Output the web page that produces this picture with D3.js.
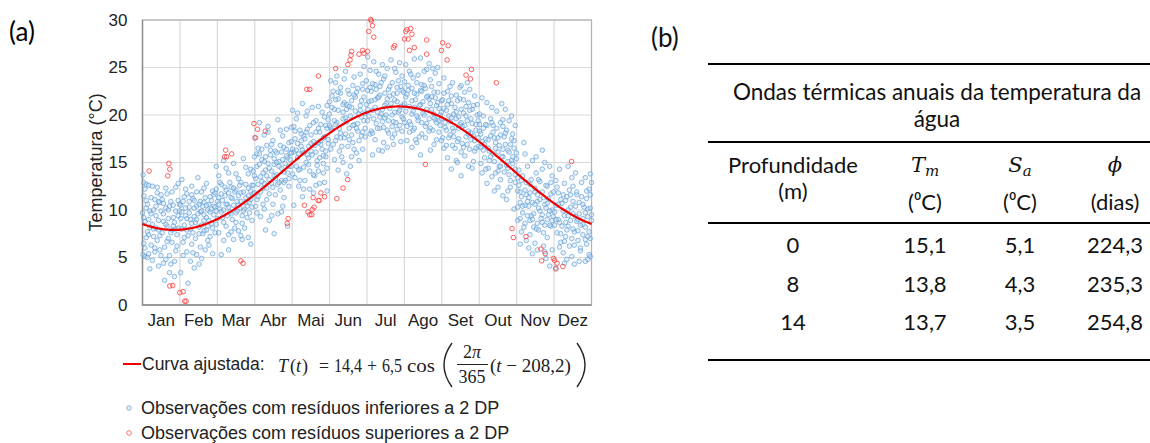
<!DOCTYPE html>
<html>
<head>
<meta charset="utf-8">
<script src="https://cdn.jsdelivr.net/npm/d3@7"></script>
<style>
  body { margin: 0; background: #fff; }
  svg { display: block; }
</style>
</head>
<body>
<svg id="chart" width="1150" height="443"></svg>
<script>
// ---- data ----
const months = ["Jan", "Feb", "Mar", "Abr", "Mai", "Jun", "Jul", "Ago", "Set", "Out", "Nov", "Dez"];
const yTicks = [0, 5, 10, 15, 20, 25, 30];

// fitted curve as printed in the legend: T(t) = 14,4 + 6,5 cos(2pi/365 (t - 208,2))
const fitMean = 14.4;
const fitAmp = 6.5;
const fitPhase = 208.2;
const fitPeriod = 365;

// observations (day of year, temperature), residuals < 2 SD
const blueObs = [
  [0.5,13.7],[1,12.9],[3,12.7],[5,12.6],[2,12.2],[8,12.5],[12,11.8],[15,11.6],[19,12.3],[24,11.9],[27,12.4],[10,11.1],[4,10.6],[14,10.8],[22,10.4],[29,11.0],[0,9.7],[6,9.9],[11,9.4],[17,9.6],[25,9.2],[30,9.9],[2,8.8],[8,8.5],[13,8.9],[20,8.3],[26,8.7],[4,7.7],[9,7.2],[16,7.6],[21,7.0],[28,7.4],[1,6.5],[7,6.3],[12,6.8],[18,6.1],[24,6.6],[0.5,5.3],[2,5.1],[4,5.0],[5,5.4],[10,5.6],[15,5.2],[19,4.8],[23,4.3],[27,5.7],[6,3.8],[13,4.1],[18,2.6],[22,3.4],[26,3.0],
  [1,11.5],[3,10.2],[5,9.0],[7,11.3],[9,10.0],[11,8.1],[13,10.9],[14,7.3],[16,11.1],[17,8.8],[19,10.2],[20,6.7],[21,9.1],[23,10.9],[24,7.9],[25,8.3],[27,9.9],[28,6.2],[29,8.1],[30,10.6],[3,7.1],[6,8.2],[10,6.0],[14,5.8],[17,4.4],[22,5.2],[26,4.6],[8,4.7],[2,6.0],[12,12.4],[20,11.7],[29,12.8],
  [1,9.2],[3,11.0],[5,7.4],[7,9.6],[9,8.0],[11,10.4],[13,7.9],[15,9.9],[17,10.7],[19,8.5],[21,10.0],[23,7.6],[25,10.5],[27,8.0],[29,9.4],
  [32,13.2],[45,13.4],[40,12.5],[52,12.8],[36,11.7],[48,11.9],[57,12.0],[33,10.9],[41,11.2],[50,10.8],[55,11.4],[35,10.2],[44,10.4],[38,9.7],[47,9.8],[53,10.0],[58,9.5],[31,9.1],[42,9.3],[50,8.9],[56,8.6],[34,8.4],[39,8.0],[46,8.2],[52,7.9],[37,7.3],[43,7.0],[49,7.5],[55,7.2],[33,6.6],[40,6.4],[47,6.1],[53,6.8],[36,5.6],[44,5.3],[51,5.8],[39,4.6],[46,4.3],[31,3.4],[37,2.3],[42,3.9],
  [31,10.5],[32,8.0],[34,11.4],[35,9.4],[36,7.9],[38,10.9],[39,9.0],[40,11.6],[41,7.6],[42,10.2],[43,8.7],[44,11.9],[45,9.6],[46,7.5],[47,10.9],[48,8.4],[49,10.4],[50,9.5],[51,11.3],[52,9.2],[53,8.3],[54,10.6],[55,9.8],[56,11.0],[57,8.1],[58,10.4],[59,7.6],[33,5.2],[41,5.5],[48,4.9],[54,6.3],[57,5.4],[35,12.2],[50,12.3],
  [32,9.8],[34,7.1],[36,9.1],[38,10.3],[40,8.6],[42,11.0],[44,9.0],[46,10.6],[48,9.9],[50,7.8],[52,10.5],[54,8.9],[56,10.1],[58,11.6],
  [60,14.6],[66,15.2],[74,14.9],[82,15.4],[88,14.3],[62,13.6],[70,13.9],[78,13.3],[86,13.8],[64,12.7],[72,12.4],[80,12.9],[89,12.6],[59,11.8],[67,11.5],[75,11.9],[84,11.3],[61,10.9],[69,10.6],[77,10.9],[85,10.4],[63,10.1],[71,9.8],[79,10.2],[87,9.7],[65,9.2],[73,9.0],[81,9.4],[60,8.5],[68,8.3],[76,8.7],[83,8.1],[89,8.9],[62,7.6],[70,7.4],[78,7.8],[86,7.1],[66,6.8],[74,6.9],[81,6.9],[64,5.3],[70,5.8],[88,6.4],
  [59,10.3],[60,12.2],[61,9.1],[62,11.3],[63,12.9],[64,9.8],[65,11.0],[66,8.7],[67,12.4],[68,10.6],[69,9.4],[70,11.8],[71,12.9],[72,9.6],[73,11.2],[74,10.5],[75,8.1],[76,12.1],[77,9.9],[78,11.5],[79,12.6],[80,10.9],[81,8.6],[82,11.9],[83,10.1],[84,12.7],[85,9.2],[86,11.5],[87,10.8],[88,12.0],[89,10.3],[90,11.7],[68,14.4],[76,13.8],[84,14.5],[72,7.7],[80,7.3],
  [60,9.9],[62,10.6],[64,11.7],[66,10.0],[68,12.1],[70,10.3],[72,11.3],[74,12.3],[76,9.7],[78,10.5],[80,11.8],[82,9.9],[84,10.8],[86,12.3],[88,11.1],
  [95,19.2],[102,18.8],[110,19.5],[117,18.5],[92,17.6],[99,17.9],[106,17.3],[114,17.8],[119,17.1],[94,16.5],[101,16.8],[108,16.2],[115,16.6],[91,15.6],[97,15.3],[104,15.8],[111,15.1],[118,15.5],[93,14.6],[100,14.2],[107,14.8],[113,14.4],[96,13.5],[103,13.2],[109,13.7],[116,13.1],[90,12.6],[98,12.3],[105,12.8],[112,12.1],[119,12.5],[94,11.4],[101,11.1],[108,11.6],[115,11.3],[92,10.4],[99,10.1],[106,10.6],[113,9.8],[96,9.3],[103,8.9],[110,9.6],[100,7.9],[107,7.5],[118,8.3],
  [90,14.1],[91,11.8],[92,13.3],[93,15.9],[94,12.7],[95,14.8],[96,11.9],[97,16.4],[98,13.9],[99,12.8],[100,15.6],[101,13.6],[102,14.9],[103,11.7],[104,16.3],[105,14.1],[106,12.4],[107,15.4],[108,13.3],[109,16.0],[110,12.7],[111,14.6],[112,16.8],[113,13.1],[114,15.3],[115,12.9],[116,14.9],[117,16.4],[118,13.9],[119,14.6],[120,16.0],[98,10.6],[105,9.4],[114,10.4],[93,9.7],[102,18.2],[112,18.4],
  [91,13.6],[93,11.1],[95,15.9],[97,13.0],[99,15.1],[101,12.3],[103,14.4],[105,16.9],[107,13.6],[109,15.0],[111,12.9],[113,16.1],[115,14.0],[117,15.7],[119,13.3],
  [122,20.5],[130,21.2],[138,20.8],[146,20.3],[150,21.0],[125,19.6],[133,19.9],[141,19.4],[148,19.8],[121,18.7],[128,18.4],[136,18.9],[144,18.2],[150,18.6],[124,17.5],[131,17.8],[139,17.2],[147,17.6],[122,16.4],[129,16.7],[137,16.2],[145,16.9],[126,15.5],[134,15.8],[142,15.2],[149,15.6],[121,14.6],[128,14.3],[135,14.8],[143,14.1],[124,13.4],[132,13.1],[140,13.6],[147,13.9],[127,12.5],[136,12.2],[144,12.8],[130,11.4],[139,11.8],[123,10.5],[150,12.0],
  [120,15.3],[121,17.2],[122,13.8],[123,16.1],[124,18.3],[125,14.6],[126,17.0],[127,15.9],[128,13.1],[129,18.0],[130,16.3],[131,14.5],[132,17.5],[133,15.0],[134,18.5],[135,16.7],[136,14.1],[137,17.9],[138,15.8],[139,13.7],[140,16.8],[141,18.2],[142,14.7],[143,17.1],[144,15.5],[145,19.0],[146,16.4],[147,14.9],[148,17.7],[149,16.2],[150,14.4],[151,17.4],[126,20.2],[134,20.4],[143,20.9],[131,12.2],[141,12.6],[148,12.9],
  [121,16.0],[123,18.8],[125,16.3],[127,14.2],[129,17.3],[131,16.0],[133,18.2],[135,15.5],[137,17.0],[139,19.2],[141,16.1],[143,18.6],[145,17.3],[147,15.7],[149,18.9],
  [153,23.6],[158,24.1],[165,24.6],[172,24.0],[177,24.3],[180,25.1],[155,22.5],[161,22.9],[168,22.2],[175,22.8],[179,23.3],[152,21.4],[159,21.7],[166,21.1],[173,21.9],[178,21.5],[156,20.6],[163,20.3],[170,20.8],[176,20.1],[151,19.5],[158,19.2],[165,19.7],[172,19.0],[180,19.4],[154,18.4],[161,18.1],[168,18.6],[175,18.3],[157,17.3],[164,17.6],[171,17.1],[178,17.8],[153,16.4],[160,16.2],[167,16.7],[174,16.0],[156,15.3],[163,15.0],[170,15.6],[159,14.2],[166,13.8],[176,15.2],
  [151,17.0],[152,20.1],[153,18.7],[154,22.0],[155,16.9],[156,19.4],[157,21.6],[158,17.7],[159,20.5],[160,18.6],[161,22.3],[162,16.7],[163,19.6],[164,21.3],[165,18.0],[166,20.6],[167,22.6],[168,17.4],[169,19.9],[170,21.5],[171,18.9],[172,16.4],[173,20.4],[174,22.4],[175,19.1],[176,17.3],[177,21.0],[178,19.8],[179,18.2],[180,21.9],[181,20.2],[157,23.4],[164,23.8],[171,23.1],[162,15.6],[169,14.6],[179,16.4],
  [152,18.9],[154,20.8],[157,19.0],[159,22.4],[161,17.6],[163,21.1],[166,19.3],[168,20.9],[170,17.9],[172,22.1],[174,18.6],[177,20.5],[179,22.7],
  [183,26.1],[188,25.6],[195,25.3],[202,25.8],[209,25.5],[185,24.7],[192,24.3],[199,24.9],[206,24.5],[211,24.1],[182,23.6],[189,23.2],[196,23.8],[203,23.4],[210,23.0],[186,22.5],[193,22.1],[200,22.7],[207,22.3],[184,21.4],[191,21.8],[198,21.2],[205,21.6],[212,21.0],[187,20.5],[194,20.1],[201,20.7],[208,20.3],[183,19.4],[190,19.1],[197,19.7],[204,19.3],[211,19.8],[186,18.3],[193,18.6],[200,18.1],[207,18.5],[189,17.4],[196,17.1],[203,17.6],[210,17.2],[187,15.8],[192,16.3],[199,16.6],
  [181,18.6],[182,21.1],[183,22.6],[184,19.9],[185,18.0],[186,21.5],[187,23.3],[188,19.6],[189,20.8],[190,22.7],[191,18.6],[192,21.9],[193,19.8],[194,23.4],[195,20.6],[196,18.7],[197,22.3],[198,20.0],[199,21.7],[200,19.4],[201,23.0],[202,21.2],[203,18.8],[204,22.2],[205,20.3],[206,19.2],[207,21.4],[208,23.6],[209,18.9],[210,20.9],[211,22.6],[212,19.6],[190,24.6],[197,24.1],[205,24.9],[195,16.2],[204,16.9],
  [181,17.7],[183,20.6],[185,22.9],[187,18.1],[189,21.6],[191,20.3],[193,23.0],[195,19.3],[197,21.0],[199,18.4],[201,22.0],[203,20.0],[205,18.0],[207,22.9],[209,20.5],[211,18.3],
  [214,25.3],[221,25.9],[226,26.0],[233,25.4],[240,25.0],[217,24.6],[224,24.2],[231,24.8],[238,24.4],[213,23.5],[220,23.9],[227,23.2],[234,23.7],[241,23.3],[216,22.6],[223,22.2],[230,22.8],[237,22.4],[219,21.5],[226,21.1],[233,21.7],[240,21.3],[214,20.4],[221,20.8],[228,20.2],[235,20.6],[242,20.0],[217,19.3],[224,19.7],[231,19.1],[238,19.5],[220,18.4],[227,18.0],[234,18.6],[241,18.2],[215,17.3],[223,17.1],[230,17.6],[237,16.9],[234,16.3],[226,15.8],[219,16.6],
  [212,22.4],[213,19.2],[214,21.9],[215,18.8],[216,23.1],[217,20.9],[218,19.0],[219,22.8],[220,20.4],[221,18.6],[222,21.6],[223,23.4],[224,19.4],[225,21.0],[226,22.6],[227,19.2],[228,21.4],[229,23.1],[230,18.8],[231,20.6],[232,22.0],[233,19.6],[234,21.2],[235,23.0],[236,18.4],[237,20.1],[238,21.8],[239,19.2],[240,22.4],[241,20.7],[242,18.9],[243,21.5],[218,24.3],[229,24.6],[236,24.9],[222,17.4],[239,17.4],
  [213,21.2],[215,22.2],[217,18.2],[219,20.1],[221,22.3],[223,19.9],[225,17.7],[227,22.5],[229,20.0],[231,21.9],[233,18.3],[235,21.9],[237,19.7],[239,21.0],[241,19.4],
  [245,23.9],[252,23.4],[259,23.1],[266,22.7],[248,22.5],[255,22.1],[262,22.4],[270,22.0],[244,21.6],[251,21.2],[258,21.7],[265,21.3],[272,21.1],[247,20.5],[254,20.8],[261,20.2],[268,20.6],[243,19.6],[250,19.3],[257,19.8],[264,19.4],[271,19.0],[246,18.7],[253,18.3],[260,18.8],[267,18.1],[249,17.6],[256,17.2],[263,17.7],[270,17.3],[245,16.5],[252,16.8],[259,16.1],[266,16.4],[273,16.7],[248,15.5],[255,15.2],[262,15.7],[269,15.1],[251,14.3],[259,13.6],[265,14.6],
  [243,20.3],[244,17.6],[245,22.3],[246,19.2],[247,16.8],[248,21.1],[249,19.9],[250,17.9],[251,22.0],[252,18.6],[253,20.1],[254,16.5],[255,19.6],[256,21.5],[257,17.5],[258,19.0],[259,20.6],[260,17.0],[261,21.6],[262,18.9],[263,19.9],[264,16.9],[265,18.3],[266,20.5],[267,17.4],[268,19.1],[269,21.0],[270,16.2],[271,18.4],[272,20.0],[273,17.6],[274,19.0],[250,23.0],[258,22.9],[264,23.4],[256,15.0],[268,14.4],
  [243,17.3],[245,20.7],[247,18.4],[249,21.5],[251,19.7],[253,17.7],[255,20.3],[257,18.6],[259,19.2],[261,16.6],[263,20.9],[265,18.0],[267,19.6],[269,17.8],[271,16.5],[273,19.4],
  [276,21.8],[280,21.3],[288,20.4],[295,20.6],[300,19.9],[274,20.1],[283,19.6],[291,19.2],[298,19.4],[303,18.9],[277,18.6],[285,18.2],[293,18.8],[301,18.0],[279,17.5],[287,17.1],[294,17.7],[302,17.3],[275,16.6],[282,16.2],[290,16.8],[297,16.3],[304,16.0],[278,15.5],[286,15.1],[293,15.6],[300,15.2],[281,14.4],[289,14.1],[296,14.7],[303,14.3],[284,13.5],[291,13.2],[298,13.7],[276,13.9],[286,12.0],[293,11.5],[299,12.4],[302,10.1],[296,11.1],
  [274,18.3],[275,14.9],[276,17.2],[277,19.9],[278,16.9],[279,14.3],[280,18.9],[281,16.5],[282,15.2],[283,17.8],[284,19.2],[285,15.9],[286,17.6],[287,13.9],[288,18.6],[289,16.1],[290,14.6],[291,17.9],[292,15.6],[293,19.5],[294,14.0],[295,16.9],[296,18.4],[297,15.1],[298,16.1],[299,13.1],[300,17.5],[301,14.9],[302,16.5],[303,12.9],[304,15.4],[280,12.8],[289,12.4],[297,12.0],[284,20.8],[292,21.2],
  [275,18.0],[277,16.3],[279,19.0],[281,17.4],[283,15.6],[285,18.9],[287,16.5],[289,17.6],[291,14.6],[293,16.4],[295,18.1],[297,14.4],[299,16.9],[301,15.6],[303,13.7],
  [310,17.1],[317,15.2],[327,15.0],[331,14.6],[306,14.2],[313,14.6],[320,13.9],[325,14.3],[333,13.6],[308,13.1],[315,12.7],[322,13.2],[329,12.5],[305,12.0],[312,11.6],[319,11.9],[326,11.3],[332,11.7],[307,10.8],[314,10.4],[321,10.9],[328,10.2],[309,9.7],[316,9.4],[323,9.9],[330,9.5],[305,8.9],[311,8.6],[318,8.2],[325,8.7],[332,8.3],[308,7.7],[315,7.4],[322,7.9],[329,7.1],[312,6.8],[319,6.5],[326,6.2],[333,5.8],[317,5.4],[328,4.9],[331,4.1],
  [305,10.3],[306,12.6],[307,9.1],[308,11.4],[309,13.6],[310,8.2],[311,10.5],[312,12.9],[313,9.4],[314,11.3],[315,8.9],[316,13.2],[317,10.8],[318,9.6],[319,12.3],[320,8.0],[321,11.6],[322,10.2],[323,13.0],[324,9.1],[325,11.9],[326,7.6],[327,10.6],[328,12.6],[329,9.0],[330,11.2],[331,8.4],[332,12.9],[333,10.0],[334,9.3],[311,15.9],[320,15.6],[325,16.3],[307,6.4],[314,6.0],[321,5.8],[327,5.6],
  [305,13.4],[307,11.9],[309,10.4],[311,12.1],[313,10.9],[315,11.8],[317,9.0],[319,10.6],[321,8.6],[323,11.1],[325,9.5],[327,8.4],[329,10.7],[331,9.9],[333,8.9],
  [339,14.3],[346,14.6],[352,13.9],[360,13.4],[364,13.8],[336,13.1],[343,12.8],[350,12.5],[357,12.9],[363,12.2],[338,11.8],[345,11.4],[353,11.6],[361,11.2],[341,10.7],[348,10.3],[355,10.8],[362,10.1],[335,9.8],[343,9.4],[350,9.6],[358,9.1],[365,9.5],[339,8.7],[346,8.3],[353,8.8],[360,8.2],[337,7.6],[344,7.2],[351,7.7],[358,7.4],[364,7.0],[340,6.6],[347,6.2],[354,6.8],[361,6.4],[342,5.5],[349,5.1],[356,5.7],[363,5.3],[336,3.9],[351,4.3],[360,4.6],[345,4.8],
  [334,11.9],[335,8.4],[336,10.5],[337,12.4],[338,9.0],[339,6.1],[340,11.1],[341,8.3],[342,9.9],[343,6.7],[344,11.0],[345,7.9],[346,10.0],[347,12.1],[348,8.9],[349,7.0],[350,10.9],[351,6.3],[352,9.3],[353,11.9],[354,7.8],[355,9.6],[356,6.0],[357,11.4],[358,8.5],[359,10.3],[360,6.9],[361,12.0],[362,9.3],[363,7.7],[364,11.6],[365,8.9],[365,12.9],[364,5.1],[343,4.4],[355,4.6],[362,4.8],[349,13.4],
  [336,9.0],[338,10.6],[340,7.5],[342,11.6],[344,8.7],[346,9.4],[348,11.6],[350,8.0],[352,10.4],[354,9.0],[356,8.4],[358,10.6],[360,9.7],[362,7.2],[364,10.2]
];

// observations with residuals > 2 SD
const redObs = [
  [185.5,30.05],[186,29.9],[187,29.4],[184,28.8],[188,28.2],[215,29.0],[218,29.1],[214,28.8],[219,28.5],[213,28.0],[216,28.0],
  [231,27.9],[244,27.6],[248.5,27.3],[243,26.8],[247.6,25.8],[231,26.4],[221,27.1],[217,26.8],[205,27.3],[204,27.1],
  [183,26.7],[179,26.8],[180,26.5],[176,26.4],[170,26.7],[169.5,26.3],[168.7,25.8],[167,25.3],[157,24.9],[143,24.1],
  [133.6,22.7],[136,22.7],[267.4,24.8],[263,24.2],[266.6,23.8],[287.7,23.4],
  [90.6,19.1],[93.5,18.5],[99.8,18.3],[91.4,17.6],[67.6,16.3],[72.5,15.9],[66.8,15.6],[68.4,15.6],
  [21.4,14.9],[22.2,14.3],[20.5,13.6],[5.4,14.1],
  [166.8,13.2],[163,12.3],[158,11.2],[148,11.4],[145,11.8],[138.7,11.3],[142.8,11.0],[143.8,11.0],
  [139.5,10.3],[138,10.05],[134.6,9.8],[136,9.5],[137.6,9.5],[131.6,10.5],[118.4,9.1],[117.6,8.6],
  [80,4.65],[81.7,4.4],[24.6,2.05],[22.2,2.0],[30.3,1.3],[33,1.4],[34.3,0.4],[35.4,0.4],
  [230,14.8],[348.8,15.1],[300.4,8.05],[301.5,7.1],[311.7,7.2],[323.9,5.9],[327.4,5.4],[324.4,4.65],
  [334,4.9],[335,4.7],[337,4.4],[336,3.8],[341.7,4.05]
];

const tableTitle = ["Ondas térmicas anuais da temperatura da", "água"];
const tableRows = [
  ["0", "15,1", "5,1", "224,3"],
  ["8", "13,8", "4,3", "235,3"],
  ["14", "13,7", "3,5", "254,8"]
];

// ---- drawing ----
const svg = d3.select("#chart");
const margin = { left: 142.5, top: 20, right: 591.5, bottom: 305 };
const chartFont = "'Liberation Sans', Arial, sans-serif";
const tableFont = "Lato, 'Open Sans', sans-serif";
const mathFont = "'Liberation Serif', 'Times New Roman', serif";

const x = d3.scaleLinear().domain([0, 365]).range([margin.left, margin.right]);
const y = d3.scaleLinear().domain([0, 30]).range([margin.bottom, margin.top]);

svg.append("text")
  .attr("x", 9).attr("y", 41)
  .attr("font-family", tableFont).attr("font-size", 26)
  .text("(a)");

// gridlines
const grid = svg.append("g");
grid.selectAll("line.h")
  .data(yTicks)
  .enter().append("line")
  .attr("x1", margin.left).attr("x2", margin.right)
  .attr("y1", d => y(d)).attr("y2", d => y(d))
  .attr("stroke", "#d9d9d9").attr("stroke-width", 1.2);
grid.selectAll("line.v")
  .data(d3.range(1, 12))
  .enter().append("line")
  .attr("x1", d => x(d * 365 / 12)).attr("x2", d => x(d * 365 / 12))
  .attr("y1", margin.top).attr("y2", margin.bottom)
  .attr("stroke", "#d9d9d9").attr("stroke-width", 1.2);

// frame
svg.append("rect")
  .attr("x", margin.left).attr("y", margin.top)
  .attr("width", margin.right - margin.left)
  .attr("height", margin.bottom - margin.top)
  .attr("fill", "none").attr("stroke", "#b4b4b4").attr("stroke-width", 1.3);
svg.append("path")
  .attr("d", `M${margin.left},${margin.top}V${margin.bottom}H${margin.right}`)
  .attr("fill", "none").attr("stroke", "#8c8c8c").attr("stroke-width", 1.4);

// y axis labels
const yAxis = svg.append("g")
  .attr("transform", `translate(${margin.left},0)`)
  .call(d3.axisLeft(y).tickValues(yTicks).tickSize(0).tickPadding(15));
yAxis.select(".domain").remove();
yAxis.selectAll("text")
  .attr("font-family", chartFont).attr("font-size", 17).attr("fill", "#222");

svg.append("text")
  .attr("transform", `translate(102,${(margin.top + margin.bottom) / 2}) rotate(-90)`)
  .attr("text-anchor", "middle")
  .attr("font-family", chartFont).attr("font-size", 18).attr("fill", "#222")
  .text("Temperatura (°C)");

// month labels
const xm = d3.scaleBand().domain(months).range([margin.left, margin.right]);
const xAxis = svg.append("g")
  .attr("transform", `translate(0,${margin.bottom})`)
  .call(d3.axisBottom(xm).tickSize(0).tickPadding(9));
xAxis.select(".domain").remove();
xAxis.selectAll("text")
  .attr("font-family", chartFont).attr("font-size", 17).attr("fill", "#222");

// points
svg.append("g")
  .selectAll("circle")
  .data(blueObs)
  .enter().append("circle")
  .attr("cx", d => x(d[0])).attr("cy", d => y(d[1]))
  .attr("r", 2.3)
  .attr("fill", "#bdd7ee").attr("fill-opacity", 0.35)
  .attr("stroke", "#5b9bd5").attr("stroke-opacity", 0.65).attr("stroke-width", 1);

svg.append("g")
  .selectAll("circle")
  .data(redObs)
  .enter().append("circle")
  .attr("cx", d => x(d[0])).attr("cy", d => y(d[1]))
  .attr("r", 2.3)
  .attr("fill", "none")
  .attr("stroke", "#ff3b3b").attr("stroke-opacity", 0.8).attr("stroke-width", 1);

// fitted curve
const days = d3.range(0, 365.5, 1);
const fitLine = d3.line()
  .x(d => x(d))
  .y(d => y(fitMean + fitAmp * Math.cos(2 * Math.PI / fitPeriod * (d - fitPhase))));
svg.append("path")
  .datum(days)
  .attr("d", fitLine)
  .attr("fill", "none").attr("stroke", "#f00000").attr("stroke-width", 2.2);

// legend
const lg = svg.append("g");
lg.append("line")
  .attr("x1", 123).attr("x2", 141).attr("y1", 364).attr("y2", 364)
  .attr("stroke", "#f00000").attr("stroke-width", 2);
lg.append("text")
  .attr("x", 142).attr("y", 370)
  .attr("font-family", chartFont).attr("font-size", 17.5).attr("fill", "#222")
  .text("Curva ajustada:");

// formula pieces (x and width of each chunk as measured on the figure)
const eqParts = [
  { t: "T", x: 278, it: true }, { t: "(", x: 290 }, { t: "t", x: 296, it: true }, { t: ")", x: 302 },
  { t: "=", x: 319, w: 10 }, { t: "14,4", x: 334, w: 28 }, { t: "+", x: 367, w: 10 },
  { t: "6,5", x: 382, w: 20 }, { t: "cos", x: 407, w: 28 }
];
eqParts.forEach(p => {
  const t = lg.append("text")
    .attr("x", p.x).attr("y", 372)
    .attr("font-family", mathFont).attr("font-size", 18).attr("fill", "#222")
    .attr("font-style", p.it ? "italic" : "normal")
    .text(p.t);
  if (p.w) t.attr("textLength", p.w).attr("lengthAdjust", "spacingAndGlyphs");
});

// big parentheses
lg.append("path")
  .attr("d", "M452,343 Q436,365 452,387")
  .attr("fill", "none").attr("stroke", "#222").attr("stroke-width", 1.4);
lg.append("path")
  .attr("d", "M577,343 Q593,365 577,387")
  .attr("fill", "none").attr("stroke", "#222").attr("stroke-width", 1.4);

const frac = lg.append("text")
  .attr("x", 472).attr("y", 358).attr("text-anchor", "middle")
  .attr("font-family", mathFont).attr("font-size", 18).attr("fill", "#222");
frac.append("tspan").text("2");
frac.append("tspan").attr("font-style", "italic").text("π");
lg.append("line")
  .attr("x1", 457).attr("x2", 488).attr("y1", 364.5).attr("y2", 364.5)
  .attr("stroke", "#222").attr("stroke-width", 1);
lg.append("text")
  .attr("x", 472).attr("y", 383).attr("text-anchor", "middle")
  .attr("font-family", mathFont).attr("font-size", 18).attr("fill", "#222")
  .text("365");
const eq2 = lg.append("text")
  .attr("x", 490).attr("y", 372)
  .attr("font-family", mathFont).attr("font-size", 19).attr("fill", "#222");
eq2.append("tspan").text("(");
eq2.append("tspan").attr("font-style", "italic").text("t");
eq2.append("tspan").text(" − 208,2)");

const legendMarks = [
  { label: "Observações com resíduos inferiores a 2 DP", stroke: "#5b9bd5", fill: "#bdd7ee" },
  { label: "Observações com resíduos superiores a 2 DP", stroke: "#ff3b3b", fill: "none" }
];
legendMarks.forEach((m, i) => {
  const yy = 408 + i * 25;
  lg.append("circle")
    .attr("cx", 129).attr("cy", yy).attr("r", 2.3)
    .attr("fill", m.fill).attr("fill-opacity", 0.35)
    .attr("stroke", m.stroke).attr("stroke-opacity", 0.7);
  lg.append("text")
    .attr("x", 141).attr("y", yy + 5.5)
    .attr("font-family", chartFont).attr("font-size", 18).attr("fill", "#222")
    .text(m.label);
});

// ---- table (b) ----
const tb = svg.append("g").attr("font-family", tableFont).attr("fill", "#111");
tb.append("text").attr("x", 651).attr("y", 47).attr("font-size", 26).text("(b)");

const tLeft = 708, tRight = 1150;
const hLines = [64, 142, 223, 360];
tb.selectAll("line")
  .data(hLines)
  .enter().append("line")
  .attr("x1", tLeft).attr("x2", tRight)
  .attr("y1", d => d).attr("y2", d => d)
  .attr("stroke", "#000").attr("stroke-width", 2);

tableTitle.forEach((t, i) => {
  tb.append("text")
    .attr("x", 937).attr("y", 100 + i * 27)
    .attr("text-anchor", "middle").attr("font-size", 22.5)
    .text(t);
});

const colX = [793, 925, 1020, 1115];
tb.append("text").attr("x", colX[0]).attr("y", 173).attr("text-anchor", "middle").attr("font-size", 22).text("Profundidade");
tb.append("text").attr("x", colX[0]).attr("y", 199).attr("text-anchor", "middle").attr("font-size", 22).text("(m)");

const hdr = [
  { base: "T", sub: "m", col: 1 },
  { base: "S", sub: "a", col: 2 },
  { base: "ϕ", sub: "", col: 3 }
];
hdr.forEach(h => {
  const t = tb.append("text")
    .attr("x", colX[h.col]).attr("y", 172).attr("text-anchor", "middle")
    .attr("font-family", "'DejaVu Serif', serif").attr("font-style", "italic").attr("font-size", 21);
  t.append("tspan").text(h.base);
  if (h.sub) t.append("tspan").attr("font-size", 15).attr("dy", 4).text(h.sub);
});
const units = ["(⁰C)", "(⁰C)", "(dias)"];
units.forEach((u, i) => {
  tb.append("text")
    .attr("x", colX[i + 1]).attr("y", 210).attr("text-anchor", "middle").attr("font-size", 22)
    .text(u);
});

tableRows.forEach((row, r) => {
  row.forEach((v, c) => {
    tb.append("text")
      .attr("x", colX[c]).attr("y", 253 + r * 38.5)
      .attr("text-anchor", "middle").attr("font-size", 22)
      .text(v);
  });
});
</script>
</body>
</html>
